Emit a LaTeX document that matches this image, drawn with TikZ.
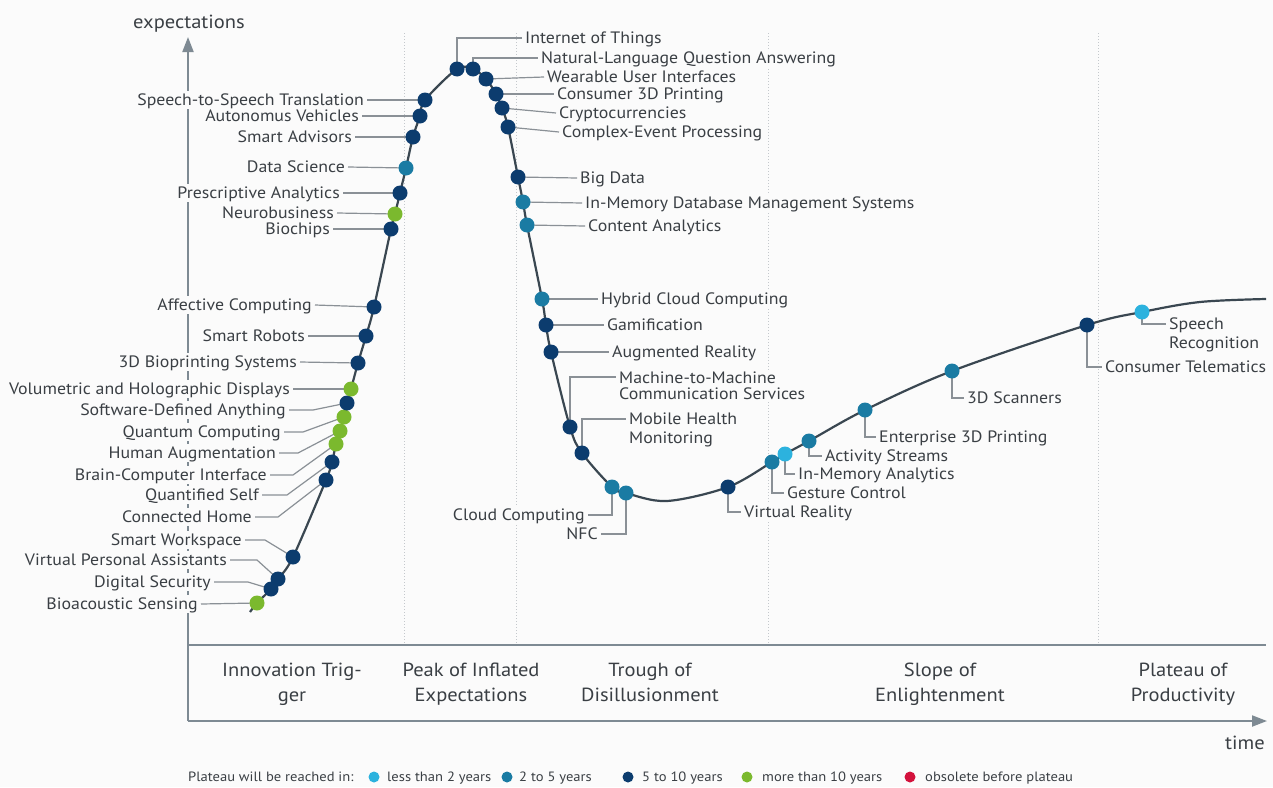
\documentclass[tikz,border=0pt]{standalone}
\usepackage{fontspec}
\setmainfont{PT Sans}[FakeStretch=1.08]
\usetikzlibrary{arrows.meta}
\definecolor{bgc}{HTML}{FBFBFB}
\definecolor{txt}{HTML}{3A3F44}
\definecolor{leadc}{HTML}{8A9096}
\definecolor{axisc}{HTML}{7E8A93}
\definecolor{curvec}{HTML}{3A4751}
\definecolor{gridc}{HTML}{C4C8CC}
\definecolor{cdark}{HTML}{0C3C6E}
\definecolor{cteal}{HTML}{1A7BA3}
\definecolor{clight}{HTML}{2CB2DE}
\definecolor{cgreen}{HTML}{7BB92E}
\definecolor{cred}{HTML}{D3123C}
\begin{document}
\begin{tikzpicture}[x=1pt,y=-1pt,
  lab/.style={font=\fontsize{16.5}{17}\selectfont, text=txt, fill=bgc, inner xsep=3pt, inner ysep=2pt, text height=12pt, text depth=1.5pt},
  labm/.style={font=\fontsize{16.5}{16}\selectfont, text=txt, fill=bgc, inner xsep=3pt, inner ysep=2pt, align=left},
  labw/.style={font=\fontsize{16.5}{19}\selectfont, text=txt, fill=bgc, inner xsep=3pt, inner ysep=2pt, align=left},
  phase/.style={font=\fontsize{19}{25}\selectfont, text=txt, align=center, inner sep=0pt},
  axlab/.style={font=\fontsize{19}{20}\selectfont, text=txt, inner sep=0pt},
  leg/.style={font=\fontsize{13.5}{14}\selectfont, text=txt, inner sep=0pt, text height=10pt, text depth=1pt, anchor=west},
  legdot/.style={circle, inner sep=0pt, minimum size=11pt},
  dot/.style={circle, inner sep=0pt, minimum size=15pt},
  lead/.style={draw=leadc, line width=1.2pt},
  curve/.style={draw=curvec, line width=2.2pt},
  axisline/.style={draw=axisc, line width=2pt},
  gridline/.style={draw=gridc, line width=1pt, dash pattern=on 1pt off 2pt}
]
\useasboundingbox (0,0) rectangle (1273,787);
\fill[bgc] (0,0) rectangle (1273,787);

% phase separators
\draw[gridline] (404,33) -- (404,645);
\draw[gridline] (516,33) -- (516,645);
\draw[gridline] (768,33) -- (768,645);
\draw[gridline] (1098,33) -- (1098,645);

% axes
\coordinate (O) at (188,721);
\coordinate (Ytop) at (188,37);
\coordinate (Xend) at (1267,721);
\coordinate (Bl) at (188,645);
\coordinate (Br) at (1266,645);
\draw[axisline, -{Triangle[length=15pt,width=11pt]}] (O) -- (Ytop);
\draw[axisline, -{Triangle[length=15pt,width=11pt]}] (O) -- (Xend);
\draw[axisline, line width=1.6pt] (Bl) -- (Br);

% curve points
\coordinate (c0) at (250,612);
\coordinate (pBio) at (257,603);
\coordinate (pDS) at (271,589);
\coordinate (pVPA) at (278,579);
\coordinate (pSW) at (293,557);
\coordinate (pCH) at (326,480);
\coordinate (pQS) at (332,462);
\coordinate (pBCI) at (336,444);
\coordinate (pHA) at (340,431);
\coordinate (pQC) at (344,417);
\coordinate (pSDA) at (347,403);
\coordinate (pVHD) at (351,389);
\coordinate (pBP) at (358,363);
\coordinate (pSRob) at (366,336);
\coordinate (pAC) at (374,307);
\coordinate (pBC) at (391,229);
\coordinate (pNB) at (395,214);
\coordinate (pPA) at (400,193);
\coordinate (pDSc) at (406,168);
\coordinate (pSA) at (413,137);
\coordinate (pAV) at (420,116);
\coordinate (pS2S) at (425,100);
\coordinate (pIoT) at (457,69);
\coordinate (pNLQA) at (473,69);
\coordinate (pWUI) at (486,79);
\coordinate (pC3D) at (496,94);
\coordinate (pCry) at (502,108);
\coordinate (pCEP) at (508,127);
\coordinate (pBD) at (518,177);
\coordinate (pIMD) at (523,202);
\coordinate (pCA) at (527,225);
\coordinate (pHCC) at (542,299);
\coordinate (pGam) at (546,325);
\coordinate (pAR) at (551,352);
\coordinate (pM2M) at (570,427);
\coordinate (pMH) at (582,453);
\coordinate (pCC) at (612,487);
\coordinate (pNFC) at (626,493);
\coordinate (c2) at (667,501);
\coordinate (pVR) at (728,487);
\coordinate (pGC) at (772,462);
\coordinate (pIMA) at (785,454);
\coordinate (pAS) at (809,441);
\coordinate (pE3D) at (865,410);
\coordinate (p3DS) at (952,371);
\coordinate (pCT) at (1087,325);
\coordinate (pSpR) at (1142,312);
\coordinate (c3) at (1200,302);
\coordinate (c4) at (1266,299);

% labels left
\node[lab,anchor=east] (lBio) at (201,604) {Bioacoustic Sensing};
\node[lab,anchor=east] (lDS) at (214,582) {Digital Security};
\node[lab,anchor=east] (lVPA) at (230,560) {Virtual Personal Assistants};
\node[lab,anchor=east] (lSW) at (245,540) {Smart Workspace};
\node[lab,anchor=east] (lCH) at (255,517) {Connected Home};
\node[lab,anchor=east] (lQS) at (262,495) {Quantified Self};
\node[lab,anchor=east] (lBCI) at (270,475) {Brain-Computer Interface};
\node[lab,anchor=east] (lHA) at (279,453) {Human Augmentation};
\node[lab,anchor=east] (lQC) at (284,432) {Quantum Computing};
\node[lab,anchor=east] (lSDA) at (289,410) {Software-Defined Anything};
\node[lab,anchor=east] (lVHD) at (293,389) {Volumetric and Holographic Displays};
\node[lab,anchor=east] (lBP) at (300,362) {3D Bioprinting Systems};
\node[lab,anchor=east] (lSRob) at (308,336) {Smart Robots};
\node[lab,anchor=east] (lAC) at (315,305) {Affective Computing};
\node[lab,anchor=east] (lBC) at (333,229) {Biochips};
\node[lab,anchor=east] (lNB) at (337,213) {Neurobusiness};
\node[lab,anchor=east] (lPA) at (343,193) {Prescriptive Analytics};
\node[lab,anchor=east] (lDSc) at (348,167) {Data Science};
\node[lab,anchor=east] (lSA) at (355,137) {Smart Advisors};
\node[lab,anchor=east] (lAV) at (362,116) {Autonomus Vehicles};
\node[lab,anchor=east] (lS2S) at (367,100) {Speech-to-Speech Translation};

% labels right
\node[lab,anchor=west] (lIoT) at (522,38) {Internet of Things};
\node[lab,anchor=west] (lNLQA) at (538,58) {Natural-Language Question Answering};
\node[lab,anchor=west] (lWUI) at (544,77) {Wearable User Interfaces};
\node[lab,anchor=west] (lC3D) at (554,94) {Consumer 3D Printing};
\node[lab,anchor=west] (lCry) at (556,113) {Cryptocurrencies};
\node[lab,anchor=west] (lCEP) at (559,132) {Complex-Event Processing};
\node[lab,anchor=west] (lBD) at (577,178) {Big Data};
\node[lab,anchor=west] (lIMD) at (582,203) {In-Memory Database Management Systems};
\node[lab,anchor=west] (lCA) at (585,226) {Content Analytics};
\node[lab,anchor=west] (lHCC) at (598,299) {Hybrid Cloud Computing};
\node[lab,anchor=west] (lGam) at (604,325) {Gamification};
\node[lab,anchor=west] (lAR) at (609,352) {Augmented Reality};
\node[labm,anchor=west] (lM2M) at (616,386.25) {Machine-to-Machine\\Communication Services};
\node[labw,anchor=west] (lMH) at (626,429.75) {Mobile Health\\Monitoring};
\node[lab,anchor=east] (lCC) at (588,515) {Cloud Computing};
\node[lab,anchor=east] (lNFC) at (601,534) {NFC};
\node[lab,anchor=west] (lVR) at (741,512) {Virtual Reality};
\node[lab,anchor=west] (lGC) at (784,493) {Gesture Control};
\node[lab,anchor=west] (lIMA) at (795,474) {In-Memory Analytics};
\node[lab,anchor=west] (lAS) at (822,456) {Activity Streams};
\node[lab,anchor=west] (lE3D) at (876,437) {Enterprise 3D Printing};
\node[lab,anchor=west] (l3DS) at (964,398) {3D Scanners};
\node[lab,anchor=west] (lCT) at (1102,367) {Consumer Telematics};
\node[labw,anchor=west] (lSpR) at (1166,334.75) {Speech\\Recognition};

% leaders left
\draw[lead] (lBio.east) -- (pBio);
\draw[lead] (lDS.east) -- ++(34,0) -- (pDS);
\draw[lead] (lVPA.east) -- ++(27,0) -- (pVPA);
\draw[lead] (lSW.east) -- ++(20,0) -- (pSW);
\draw[lead] (lCH.east) -- ++(23,0) -- (pCH);
\draw[lead] (lQS.east) -- ++(25,0) -- (pQS);
\draw[lead] (lBCI.east) -- ++(23,0) -- (pBCI);
\draw[lead] (lHA.east) -- ++(19,0) -- (pHA);
\draw[lead] (lQC.east) -- ++(19,0) -- (pQC);
\draw[lead] (lSDA.east) -- ++(24,0) -- (pSDA);
\draw[lead] (lVHD.east) -- (pVHD);
\draw[lead] (lBP.east) -- (pBP);
\draw[lead] (lSRob.east) -- (pSRob);
\draw[lead] (lAC.east) -- (pAC);
\draw[lead] (lBC.east) -- (pBC);
\draw[lead] (lNB.east) -- (pNB);
\draw[lead] (lPA.east) -- (pPA);
\draw[lead] (lDSc.east) -- (pDSc);
\draw[lead] (lSA.east) -- (pSA);
\draw[lead] (lAV.east) -- (pAV);
\draw[lead] (lS2S.east) -- (pS2S);

% leaders right
\draw[lead] (pIoT) |- (lIoT.west);
\draw[lead] (pNLQA) |- (lNLQA.west);
\draw[lead] (pWUI) -- (lWUI.west);
\draw[lead] (pC3D) -- (lC3D.west);
\draw[lead] (pCry) -- (lCry.west);
\draw[lead] (pCEP) -- (lCEP.west);
\draw[lead] (pBD) -- (lBD.west);
\draw[lead] (pIMD) -- (lIMD.west);
\draw[lead] (pCA) -- (lCA.west);
\draw[lead] (pHCC) -- (lHCC.west);
\draw[lead] (pGam) -- (lGam.west);
\draw[lead] (pAR) -- (lAR.west);
\draw[lead] (pM2M) |- ([yshift=9.25pt]lM2M.west);
\draw[lead] (pMH) |- ([yshift=10.75pt]lMH.west);
\draw[lead] (pCC) |- (lCC.east);
\draw[lead] (pNFC) |- (lNFC.east);
\draw[lead] (pVR) |- (lVR.west);
\draw[lead] (pGC) |- (lGC.west);
\draw[lead] (pIMA) |- (lIMA.west);
\draw[lead] (pAS) |- (lAS.west);
\draw[lead] (pE3D) |- (lE3D.west);
\draw[lead] (p3DS) |- (l3DS.west);
\draw[lead] (pCT) |- (lCT.west);
\draw[lead] (pSpR) |- ([yshift=10.75pt]lSpR.west);

% the hype curve
\draw[curve] plot[smooth, tension=0.55] coordinates {(c0) (pBio) (pDS) (pVPA) (pSW) (pCH) (pQS) (pBCI) (pHA) (pQC) (pSDA) (pVHD) (pBP) (pSRob) (pAC) (pBC) (pNB) (pPA) (pDSc) (pSA) (pAV) (pS2S) (pIoT) (pNLQA) (pWUI) (pC3D) (pCry) (pCEP) (pBD) (pIMD) (pCA) (pHCC) (pGam) (pAR) (pM2M) (pMH) (pCC) (pNFC) (c2) (pVR) (pGC) (pIMA) (pAS) (pE3D) (p3DS) (pCT) (pSpR) (c3) (c4)};

% dots
\node[dot,fill=cgreen] (dBio) at (pBio) {};
\node[dot,fill=cdark] (dDS) at (pDS) {};
\node[dot,fill=cdark] (dVPA) at (pVPA) {};
\node[dot,fill=cdark] (dSW) at (pSW) {};
\node[dot,fill=cdark] (dCH) at (pCH) {};
\node[dot,fill=cdark] (dQS) at (pQS) {};
\node[dot,fill=cgreen] (dBCI) at (pBCI) {};
\node[dot,fill=cgreen] (dHA) at (pHA) {};
\node[dot,fill=cgreen] (dQC) at (pQC) {};
\node[dot,fill=cdark] (dSDA) at (pSDA) {};
\node[dot,fill=cgreen] (dVHD) at (pVHD) {};
\node[dot,fill=cdark] (dBP) at (pBP) {};
\node[dot,fill=cdark] (dSRob) at (pSRob) {};
\node[dot,fill=cdark] (dAC) at (pAC) {};
\node[dot,fill=cdark] (dBC) at (pBC) {};
\node[dot,fill=cgreen] (dNB) at (pNB) {};
\node[dot,fill=cdark] (dPA) at (pPA) {};
\node[dot,fill=cteal] (dDSc) at (pDSc) {};
\node[dot,fill=cdark] (dSA) at (pSA) {};
\node[dot,fill=cdark] (dAV) at (pAV) {};
\node[dot,fill=cdark] (dS2S) at (pS2S) {};
\node[dot,fill=cdark] (dIoT) at (pIoT) {};
\node[dot,fill=cdark] (dNLQA) at (pNLQA) {};
\node[dot,fill=cdark] (dWUI) at (pWUI) {};
\node[dot,fill=cdark] (dC3D) at (pC3D) {};
\node[dot,fill=cdark] (dCry) at (pCry) {};
\node[dot,fill=cdark] (dCEP) at (pCEP) {};
\node[dot,fill=cdark] (dBD) at (pBD) {};
\node[dot,fill=cteal] (dIMD) at (pIMD) {};
\node[dot,fill=cteal] (dCA) at (pCA) {};
\node[dot,fill=cteal] (dHCC) at (pHCC) {};
\node[dot,fill=cdark] (dGam) at (pGam) {};
\node[dot,fill=cdark] (dAR) at (pAR) {};
\node[dot,fill=cdark] (dM2M) at (pM2M) {};
\node[dot,fill=cdark] (dMH) at (pMH) {};
\node[dot,fill=cteal] (dCC) at (pCC) {};
\node[dot,fill=cteal] (dNFC) at (pNFC) {};
\node[dot,fill=cdark] (dVR) at (pVR) {};
\node[dot,fill=cteal] (dGC) at (pGC) {};
\node[dot,fill=clight] (dIMA) at (pIMA) {};
\node[dot,fill=cteal] (dAS) at (pAS) {};
\node[dot,fill=cteal] (dE3D) at (pE3D) {};
\node[dot,fill=cteal] (d3DS) at (p3DS) {};
\node[dot,fill=cdark] (dCT) at (pCT) {};
\node[dot,fill=clight] (dSpR) at (pSpR) {};

% axis labels
\node[axlab] (ylab) at (189,24) {expectations};
\node[axlab] (xlab) at (1245,743) {time};

% phases
\node[phase] (ph1) at (292,683.5) {\strut Innovation Trig-\\\strut ger};
\node[phase] (ph2) at (471,683.5) {\strut Peak of Inflated\\\strut Expectations};
\node[phase] (ph3) at (650,683.5) {\strut Trough of\\\strut Disillusionment};
\node[phase] (ph4) at (940,683.5) {\strut Slope of\\\strut Enlightenment};
\node[phase] (ph5) at (1183,683.5) {\strut Plateau of\\\strut Productivity};

% legend
\node[leg] (lg0) at (188,777) {Plateau will be reached in:};
\node[legdot,fill=clight] (lgd1) at (374,777) {};
\node[leg] (lg1) at (387,777) {less than 2 years};
\node[legdot,fill=cteal] (lgd2) at (507,777) {};
\node[leg] (lg2) at (519,777) {2 to 5 years};
\node[legdot,fill=cdark] (lgd3) at (628,777) {};
\node[leg] (lg3) at (642,777) {5 to 10 years};
\node[legdot,fill=cgreen] (lgd4) at (747,777) {};
\node[leg] (lg4) at (762,777) {more than 10 years};
\node[legdot,fill=cred] (lgd5) at (910,777) {};
\node[leg] (lg5) at (925,777) {obsolete before plateau};
\end{tikzpicture}
\end{document}
